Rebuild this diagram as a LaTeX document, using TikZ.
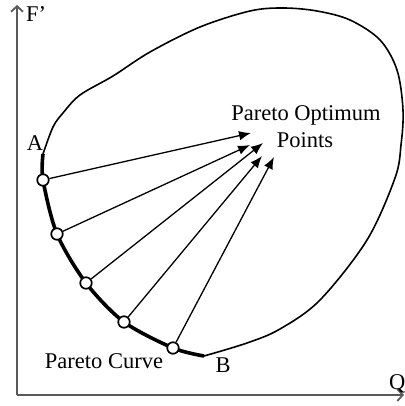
\documentclass[tikz,border=0pt]{standalone}
\usepackage{fontspec}
\setmainfont{Liberation Serif}
\usetikzlibrary{arrows.meta}
\begin{document}
\begin{tikzpicture}[x=1pt,y=-1pt,
  lbl/.style={font=\fontsize{22.5}{26}\selectfont, inner sep=0pt},
  axis/.style={draw=black!65, line width=2pt, -{Straight Barb[length=5.5pt,width=12pt,line width=1.8pt]}},
  pt/.style={circle, draw=black, line width=1.7pt, fill=white, minimum size=11.5pt, inner sep=0pt},
  arr/.style={line width=1.3pt, -{Latex[length=12pt,width=9.5pt]}},
  region/.style={line width=1.6pt},
  pcurve/.style={line width=3.6pt}]
\useasboundingbox (0,0) rectangle (404,406);
% axes
\coordinate (O) at (17,395);
\coordinate (Ytip) at (17,5);
\coordinate (Xtip) at (404,395);
\draw[axis] (O) -- (Ytip);
\draw[axis] (O) -- (Xtip);
\node[lbl, anchor=base west] (F) at (26,22) {F’};
\node[lbl, anchor=base west] (Q) at (389,389) {Q};
% feasible region boundary
\draw[region] plot[smooth, tension=0.55] coordinates {(43,154) (53,127) (63,113) (80,95) (113,76) (150,52) (200,27) (250,11) (283,8) (317,11) (350,20) (380,40) (397,70) (403,110) (401,145) (395,178) (367,240) (320,300) (280,329) (247,343) (204,356)};
% Pareto curve
\draw[pcurve] plot[smooth, tension=0.5] coordinates {(43,154) (43,180) (57,234) (86,283) (124,322) (173,348) (204,356)};
% points
\node[pt] (p1) at (43,180) {};
\node[pt] (p2) at (57,234) {};
\node[pt] (p3) at (86,283) {};
\node[pt] (p4) at (124,322) {};
\node[pt] (p5) at (173,348) {};
\coordinate (t1) at (251,133);
\coordinate (t2) at (250,145);
\coordinate (t3) at (263,143);
\coordinate (t4) at (262,156);
\coordinate (t5) at (274,157);
\draw[arr] (p1) -- (t1);
\draw[arr] (p2) -- (t2);
\draw[arr] (p3) -- (t3);
\draw[arr] (p4) -- (t4);
\draw[arr] (p5) -- (t5);
% labels
\node[lbl, anchor=base] (A) at (35,150) {A};
\node[lbl, anchor=base] (B) at (223,372) {B};
\node[lbl, anchor=base] (pc) at (104,368) {Pareto Curve};
\node[lbl, anchor=base] (po1) at (306,121) {Pareto Optimum};
\node[lbl, anchor=base] (po2) at (305,147) {Points};
\end{tikzpicture}
\end{document}
